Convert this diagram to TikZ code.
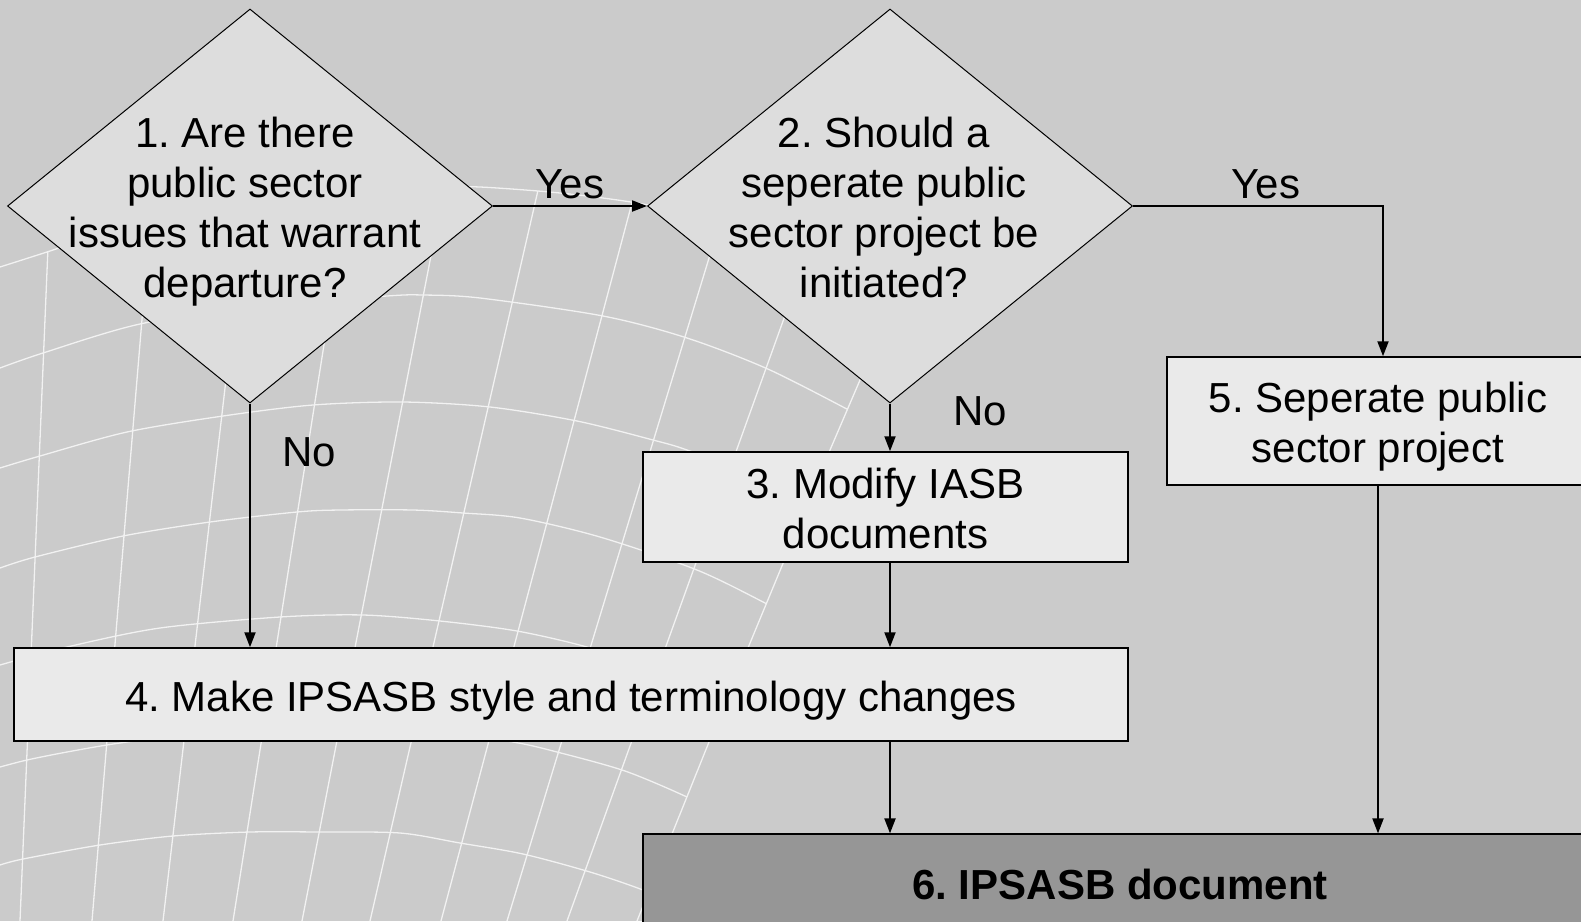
\documentclass[tikz,border=0pt]{standalone}
\usepackage{fontspec}
\setmainfont{Liberation Sans}
\usetikzlibrary{shapes.geometric,arrows.meta}
\definecolor{bg}{RGB}{203,203,203}
\definecolor{dfill}{RGB}{221,221,221}
\definecolor{bfill}{RGB}{234,234,234}
\definecolor{darkfill}{RGB}{150,150,150}
\definecolor{gridcol}{RGB}{242,242,242}
\frenchspacing
\newcommand\ctext[2][0pt]{\makebox[0pt]{\hspace*{#1}\smash{\raisebox{-13pt}{\begin{tabular}{@{}c@{}}#2\end{tabular}}}}}
\tikzset{
  every node/.style={font=\fontsize{42}{50}\selectfont},
  dia/.style={diamond, draw=black, line width=1pt, fill=dfill, inner sep=0pt,
              minimum width=485pt, minimum height=394pt},
  box/.style={rectangle, draw=black, line width=1.5pt, fill=bfill, inner sep=0pt},
  arr/.style={draw=black, line width=2pt, -{Triangle[length=15pt,width=11pt]}},
  lbl/.style={inner sep=0pt},
  gridline/.style={draw=gridcol, line width=1.3pt},
}
\begin{document}
\begin{tikzpicture}[x=1pt,y=-1pt]
\useasboundingbox (0,0) rectangle (1581,921);
\fill[bg] (0,0) rectangle (1581,921);
\clip (0,0) rectangle (1581,921);

% background globe grid
\begin{scope}
\clip plot[smooth,tension=0.5] coordinates {(0,267) (47,252) (140,222) (260,203) (387,190) (440,187.5) (480,187) (560,193) (637,203) (720,220) (800,248) (896,297)}
  -- (860,380) -- (830,450) -- (709,742) -- (637,921) -- (0,921) -- cycle;
\draw[gridline] plot[smooth,tension=0.5] coordinates {(0,368) (43,353) (140,324) (260,306) (387,296) (423,295) (480,298) (603,316) (687,338) (770,370) (860,416)};
\draw[gridline] plot[smooth,tension=0.5] coordinates {(0,468) (40,456) (127,432) (223,416) (313,405) (403,402) (490,407) (577,421) (653,440) (687,450) (750,475) (830,530)};
\draw[gridline] plot[smooth,tension=0.5] coordinates {(0,568) (35,557) (123,536) (210,522) (297,512) (340,510) (413,510) (463,513) (520,518) (600,537) (697,570) (767,604) (800,622)};
\draw[gridline] plot[smooth,tension=0.5] coordinates {(0,665) (67,647) (160,628) (280,617) (363,615) (440,621) (517,631) (587,647) (650,668) (760,715)};
\draw[gridline] plot[smooth,tension=0.5] coordinates {(0,767) (27,760) (67,752) (120,743) (220,730) (320,724) (420,728) (513,742) (557,752) (625,771) (687,797) (720,815)};
\draw[gridline] plot[smooth,tension=0.5] coordinates {(0,865) (23,859) (100,845) (173,836) (250,832) (320,832) (400,833) (460,843) (523,854) (590,872) (643,890) (690,910)};
\foreach \a/\d in {35/15,122/30,205/42,290/57,372/70,453/83,537/96,617/110,697/130}
  \draw[gridline] ({\a+\d/361*560},0) -- ({\a-\d},921);
\end{scope}
\draw[gridline] plot[smooth,tension=0.5] coordinates {(0,267) (47,252) (140,222) (260,203) (387,190) (440,187.5) (480,187) (560,193) (637,203) (720,220) (800,248) (896,297)};
\draw[gridline] (896,297) -- (860,380) -- (830,450) -- (709,742) -- (637,921);

% nodes
\node[dia] (d1) at (250,206) {\ctext[-10pt]{1. Are there\\public sector\\issues that warrant\\departure?}};
\node[dia] (d2) at (890,206) {\ctext[-12pt]{2. Should a\\seperate public\\sector project be\\initiated?}};
\node[box, minimum width=485pt, minimum height=110pt] (b3) at (885.5,507) {\ctext{\fontsize{42}{48}\selectfont 3. Modify IASB\\documents}};
\node[box, minimum width=1114pt, minimum height=93pt] (b4) at (571,694.5) {\ctext{4. Make IPSASB style and terminology changes}};
\node[box, minimum width=422pt, minimum height=128pt] (b5) at (1378,421) {\ctext{5. Seperate public\\sector project}};
\node[box, fill=darkfill, line width=1.2pt, minimum width=954pt, minimum height=97pt] (b6) at (1120,882.5) {\ctext{\bfseries 6. IPSASB document}};

% connectors
\draw[arr] (d1.east) -- node[lbl, yshift=22pt] {Yes} (d2.west);
\draw[arr] (d2.east) -| node[lbl, pos=0.266, yshift=22pt] {Yes} ([xshift=5pt]b5.north);
\draw[arr] (d1.south) -- node[lbl, pos=0.2, xshift=59pt] {No} (d1.south |- b4.north);
\draw[arr] (d2.south) -- node[lbl, pos=0.16, xshift=90pt] {No} (d2.south |- b3.north);
\draw[arr] (d2.south |- b3.south) -- (d2.south |- b4.north);
\draw[arr] (d2.south |- b4.south) -- (d2.south |- b6.north);
\draw[arr] (b5.south) -- (b5.south |- b6.north);
\end{tikzpicture}
\end{document}
